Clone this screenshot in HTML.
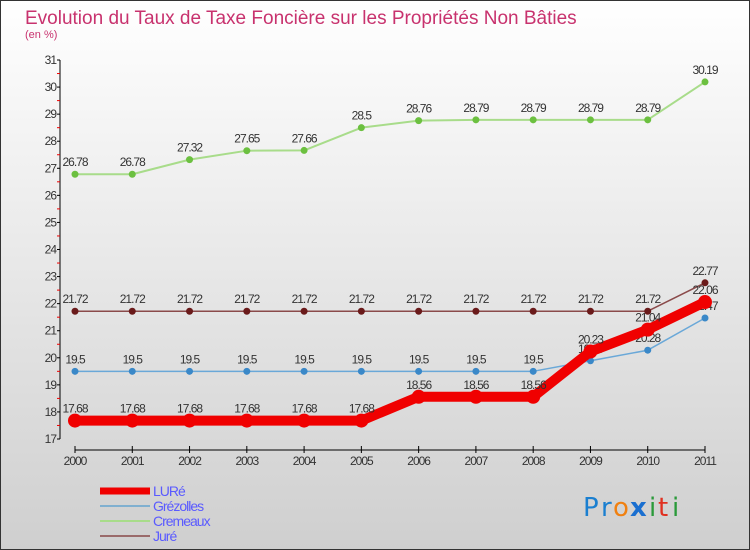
<!DOCTYPE html>
<html><head><meta charset="utf-8"><style>
body{margin:0}
#wrap{width:750px;height:550px;position:relative;overflow:hidden;font-family:"Liberation Sans",sans-serif}
</style></head><body>
<div id="wrap">
<svg id="c" width="750" height="550" xmlns="http://www.w3.org/2000/svg">
<defs><linearGradient id="bg" x1="0" y1="0" x2="0" y2="1"><stop offset="0" stop-color="#ffffff"/><stop offset="1" stop-color="#cfcfcf"/></linearGradient></defs>
<rect x="0.5" y="0.5" width="749" height="549" fill="url(#bg)" stroke="#333"/>
<text x="25" y="24" font-size="19" fill="#c8326e">Evolution du Taux de Taxe Foncière sur les Propriétés Non Bâties</text>
<text x="25" y="38" font-size="11" fill="#c8326e">(en %)</text>
<g id="axes"></g><g id="series"></g><g id="legend"></g>
<g font-size="26" font-family="'DejaVu Sans',sans-serif">
<text x="583" y="516" fill="#1a7fd0">P</text><text x="601" y="516" fill="#1a7fd0">r</text><text x="613" y="516" fill="#f08010">o</text><text x="630" y="516" fill="#1a6fd0" font-weight="bold">x</text><text x="649" y="516" fill="#2a9a3a">i</text><text x="658" y="516" fill="#e03020">t</text><text x="672" y="516" fill="#2a9a3a">i</text>
</g>
</svg>
</div>
<script>
const years=[2000,2001,2002,2003,2004,2005,2006,2007,2008,2009,2010,2011];
const lure=[17.68,17.68,17.68,17.68,17.68,17.68,18.56,18.56,18.56,20.23,21.04,22.06];
const grezolles=[19.5,19.5,19.5,19.5,19.5,19.5,19.5,19.5,19.5,19.89,20.28,21.47];
const cremeaux=[26.78,26.78,27.32,27.65,27.66,28.5,28.76,28.79,28.79,28.79,28.79,30.19];
const jure=[21.72,21.72,21.72,21.72,21.72,21.72,21.72,21.72,21.72,21.72,21.72,22.77];
const yTicks=[17,18,19,20,21,22,23,24,25,26,27,28,29,30,31];
const NS="http://www.w3.org/2000/svg";
const x=i=>75+i*(630/(years.length-1));
const y=v=>439-(v-17)*(379/14);
function mk(t,a,p){const e=document.createElementNS(NS,t);for(const k in a)e.setAttribute(k,a[k]);p.appendChild(e);return e;}
const ax=document.getElementById('axes');
let l=mk('line',{x1:60,y1:y(31),x2:60,y2:y(17),stroke:'#000'},ax);


yTicks.forEach(v=>{
 let t=mk('line',{x1:57,y1:y(v),x2:60,y2:y(v),stroke:'#000'},ax);
 
 
 if(v<31){let m=mk('line',{x1:57,y1:y(v+0.5),x2:60,y2:y(v+0.5),stroke:'#e00'},ax);
 
 }
 let tx=mk('text',{x:56,y:y(v)+4,'font-size':12,fill:'#333','text-anchor':'end','letter-spacing':'-1'},ax);
 tx.textContent=v;
 
 
});
l=mk('line',{x1:75,y1:450,x2:705,y2:450,stroke:'#000'},ax);


years.forEach((yr,i)=>{
 let t=mk('line',{x1:x(i),y1:446,x2:x(i),y2:453,stroke:'#000'},ax);
 
 
 let tx=mk('text',{x:x(i),y:465,'font-size':12,fill:'#333','text-anchor':'middle','letter-spacing':'-1'},ax);
 tx.textContent=yr;
 
 
});
const sg=document.getElementById('series');
const defs=[
 {name:'cremeaux',d:cremeaux,c:'#a8dc8a',dot:'#6cc040',w:2,r:3.5},
 {name:'jure',d:jure,c:'#8a4a4a',dot:'#6a1a1a',w:1.5,r:3.5},
 {name:'grezolles',d:grezolles,c:'#6aa8d8',dot:'#3a88c8',w:1.5,r:3.5},
 {name:'lure',d:lure,c:'#f00000',dot:'#f00000',w:10,r:7}
];
defs.forEach(s=>{
 const g=mk('g',{},sg);
 
 
 const p=mk('polyline',{points:s.d.map((v,i)=>x(i)+','+y(v)).join(' '),fill:'none',stroke:s.c,'stroke-width':s.w,'stroke-linejoin':'round'},g);
 
 
 s.d.forEach((v,i)=>{
  const c=mk('circle',{cx:x(i),cy:y(v),r:s.r,fill:s.dot},g);
  
  
  const t=mk('text',{x:x(i),y:y(v)-8,'font-size':12,fill:'#333','text-anchor':'middle','letter-spacing':'-1'},g);
  t.textContent=v;
  
  
 });
});
const lg=document.getElementById('legend');
[['LURé','#f00000',7],['Grézolles','#80b0d0',2],['Cremeaux','#a8dc8a',2],['Juré','#9a6a6a',2]].forEach((e,i)=>{
 const yy=491+i*15;
 const li=mk('line',{x1:100,y1:yy,x2:150,y2:yy,stroke:e[1],'stroke-width':e[2]},lg);
 
 
 const t=mk('text',{x:153,y:yy+5,'font-size':14,fill:'#5a5aff','letter-spacing':'-1'},lg);
 t.textContent=e[0];
 
 
});
</script>
</body></html>
